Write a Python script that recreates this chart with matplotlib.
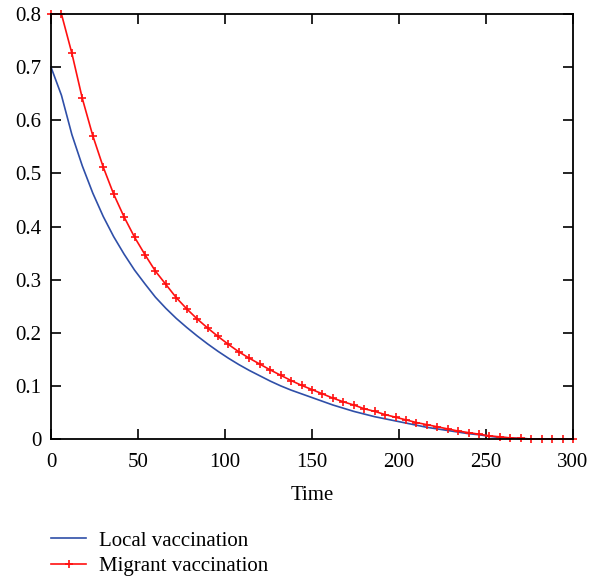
import numpy as np
import matplotlib
matplotlib.use("Agg")
import matplotlib.pyplot as plt

# ----------------------------------------------------------------------------------------------------------------------
# Data read from the reference (sampled every 6 time units).
# ----------------------------------------------------------------------------------------------------------------------
time = list(range(0, 301, 6))

local_vac = [0.700, 0.647, 0.573, 0.514, 0.463, 0.419, 0.381, 0.348, 0.318, 0.292,
             0.267, 0.246, 0.227, 0.210, 0.194, 0.179, 0.165, 0.152, 0.140, 0.129,
             0.119, 0.109, 0.100, 0.092, 0.085, 0.078, 0.071, 0.064, 0.058, 0.052,
             0.047, 0.042, 0.038, 0.034, 0.030, 0.026, 0.022, 0.019, 0.016, 0.013,
             0.010, 0.008, 0.005, 0.003, 0.002, 0.001, 0.0, 0.0, 0.0, 0.0, 0.0]

migrant_vac = [0.800, 0.800, 0.726, 0.641, 0.571, 0.512, 0.461, 0.418, 0.380, 0.347,
               0.316, 0.291, 0.266, 0.245, 0.226, 0.209, 0.193, 0.178, 0.164, 0.152,
               0.141, 0.130, 0.120, 0.110, 0.101, 0.093, 0.085, 0.077, 0.070, 0.064,
               0.057, 0.052, 0.046, 0.041, 0.036, 0.031, 0.027, 0.023, 0.019, 0.015,
               0.012, 0.009, 0.006, 0.004, 0.002, 0.001, 0.0, 0.0, 0.0, 0.0, 0.0]

x_ticks = [0, 50, 100, 150, 200, 250, 300]
y_ticks = [0, 0.1, 0.2, 0.3, 0.4, 0.5, 0.6, 0.7, 0.8]
y_labels = ['0', '0.1', '0.2', '0.3', '0.4', '0.5', '0.6', '0.7', '0.8']

plt.rcParams['font.family'] = ['Liberation Serif', 'DejaVu Serif']
fs = 15

fig = plt.figure(figsize=(5.89, 5.77), dpi=100)
W, H = 589, 577
ax = fig.add_axes([51 / W, 1 - 439 / H, (573 - 51) / W, (439 - 14) / H])

ax.plot(time, local_vac, color='#2f4fa8', lw=1.2, label='Local vaccination', clip_on=False)
ax.plot(time, migrant_vac, color='#ff1010', lw=1.2, marker='+', markersize=6, mew=1.2,
        label='Migrant vaccination', clip_on=False)

ax.set_xlim(0, 300)
ax.set_ylim(0, 0.8)
ax.set_xticks(x_ticks)
ax.set_yticks(y_ticks)
ax.set_yticklabels(y_labels)
ax.tick_params(direction='in', length=7, width=1.2, top=True, right=True, labelsize=fs)
ax.tick_params(axis='x', pad=10)
ax.tick_params(axis='y', pad=7)
for s in ax.spines.values():
    s.set_linewidth(1.3)
ax.set_xlabel('Time', fontsize=fs, labelpad=10)

fig.legend(loc='upper left', bbox_to_anchor=(51 / W, 1 - 531 / H), frameon=False, fontsize=fs,
           borderpad=0, borderaxespad=0, handlelength=1.7, handletextpad=0.6, labelspacing=0.3)

fig.savefig('out.png', dpi=100)
